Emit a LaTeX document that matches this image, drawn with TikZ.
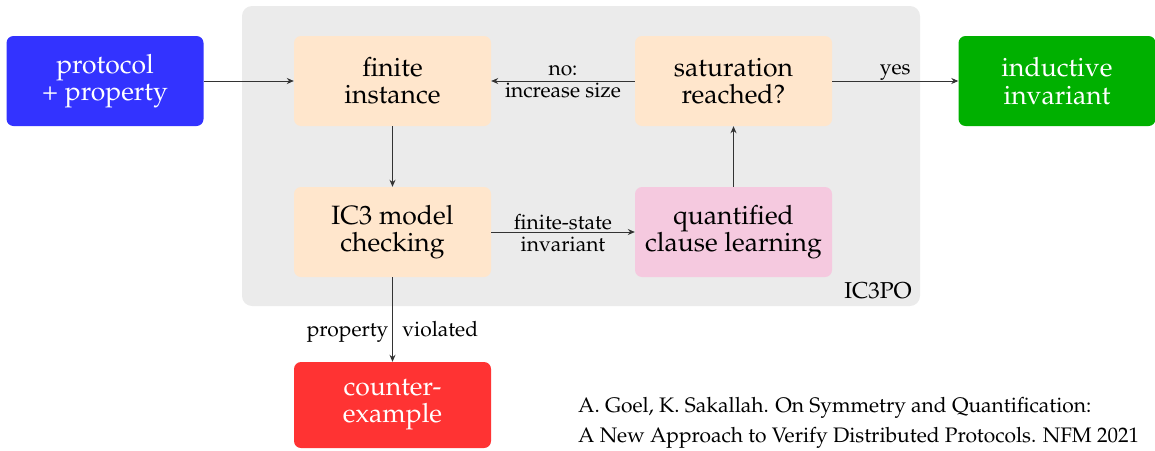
\documentclass[tikz,border=0pt]{standalone}
\usepackage[T1]{fontenc}
\usepackage{mathpazo}
\usetikzlibrary{arrows.meta}
\definecolor{boxblue}{HTML}{3333FF}
\definecolor{boxgreen}{HTML}{00B000}
\definecolor{boxred}{HTML}{FF3333}
\definecolor{boxpeach}{HTML}{FFE6CC}
\definecolor{boxpink}{HTML}{F5C9DF}
\definecolor{panelgray}{HTML}{EBEBEB}
\definecolor{linegray}{HTML}{333333}
\tikzset{
  block/.style={rectangle, rounded corners=7pt, minimum width=197pt, minimum height=90pt,
    align=center, inner sep=0pt, font=\fontsize{26.5}{27.3}\selectfont},
  outer/.style={block, text=white},
  inner/.style={block, fill=boxpeach, text=black},
  arr/.style={draw=linegray, line width=0.9pt, -{Stealth[length=7pt,width=6pt]}},
  lbl/.style={font=\fontsize{21}{22}\selectfont, inner sep=0pt, text=black, anchor=base},
}
\begin{document}
\begin{tikzpicture}[x=1pt,y=-1pt]
\useasboundingbox (0,0) rectangle (1155,450);
% IC3PO panel
\fill[panelgray, rounded corners=10pt] (242,6) rectangle (920,306);
\node[anchor=base east, font=\fontsize{23}{24}\selectfont, inner sep=0pt] (ictitle) at (912,298) {IC3PO};

% blocks
\node[outer, fill=boxblue] (proto) at (105,81) {protocol\\+ property};
\node[inner] (fin) at (392.5,81) {finite\\instance};
\node[inner] (sat) at (733.5,81) {saturation\\reached?};
\node[outer, fill=boxgreen] (ind) at (1057,81) {inductive\\invariant};
\node[inner] (ic3) at (392.5,232) {IC3 model\\checking};
\node[inner, fill=boxpink] (ql) at (733.5,232) {quantified\\clause learning};
\node[outer, fill=boxred, minimum height=86pt] (ce) at (392.5,405) {counter-\\example};

% connectors
\draw[arr] (proto) -- (fin);
\draw[arr] (sat) -- node[lbl, yshift=6pt]{no:} node[lbl, yshift=-16pt]{increase size} (fin);
\draw[arr] (sat) -- node[lbl, yshift=7pt]{yes} (ind);
\draw[arr] (fin) -- (ic3);
\draw[arr] (ic3) -- node[lbl, yshift=2.5pt]{finite-state} node[lbl, yshift=-19pt]{invariant} (ql);
\draw[arr] (ql) -- (sat);
\draw[arr] (ic3) -- node[lbl, pos=0.706]{property\hspace{14pt}violated} (ce);

% reference
\node[anchor=base west, align=left, inner sep=0pt, font=\fontsize{21}{29.5}\selectfont] (cite) at (578,442)
  {A. Goel, K. Sakallah. On Symmetry and Quantification:\\A New Approach to Verify Distributed Protocols. NFM 2021};
\end{tikzpicture}
\end{document}
